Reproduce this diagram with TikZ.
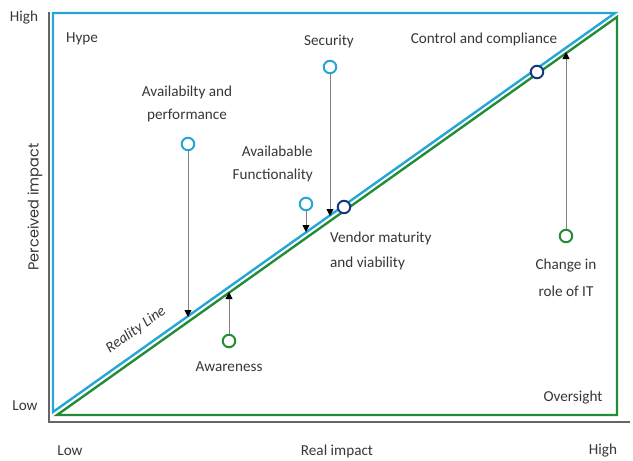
\documentclass[tikz,border=0pt]{standalone}
\usepackage{fontspec}
\setmainfont{Carlito}
\newfontfamily\axisfont{Poppins}
\usetikzlibrary{arrows.meta}
\definecolor{realblue}{RGB}{38,165,215}
\definecolor{realgreen}{RGB}{35,140,55}
\definecolor{darkdot}{RGB}{25,55,125}
\definecolor{txtgray}{RGB}{55,55,55}
\begin{document}
\begin{tikzpicture}[x=1pt,y=-1pt,
        every node/.style={text=txtgray,font=\fontsize{15.2}{23}\selectfont},
        dot/.style={circle,draw,line width=2pt,fill=white,inner sep=0pt,minimum size=12.5pt},
        lbl/.style={align=center,inner sep=0pt},
        pointer/.style={draw=gray,line width=0.9pt,-{Triangle[length=7pt,width=7pt,color=black]}}]
        \useasboundingbox (0,0) rectangle (633,461);
        % axes
        \coordinate (o) at (49,422);
        \coordinate (ytop) at (49,12);
        \coordinate (xend) at (630,422);
        \draw[gray!80!black,line width=1.4pt] (ytop) -- (o) -- (xend);
        % hype triangle and oversight triangle
        \coordinate (b1) at (53,412);
        \coordinate (b2) at (53,13);
        \coordinate (b3) at (615,13);
        \coordinate (g1) at (57,415);
        \coordinate (g2) at (617,415);
        \coordinate (g3) at (617,17);
        \draw[realblue,line width=2.4pt,line join=miter] (b1) -- (b2) -- (b3) -- cycle;
        \draw[realgreen,line width=2.4pt,line join=miter] (g1) -- (g2) -- (g3) -- cycle;
        % axis labels
        \node (yhigh) at (24,18) {High};
        \node (ylow) at (25,406) {Low};
        \node (xlow) at (70,451) {Low};
        \node (xmid) at (337,451) {Real impact};
        \node (xhigh) at (603,451) {High};
        \node[rotate=90,font=\axisfont\fontsize{14.5}{16}\selectfont] (yname) at (35,207) {Perceived impact};
        \node (hype) at (82,39) {Hype};
        \node[anchor=east] (oversight) at (606,398) {Oversight};
        \node[rotate=35.3,font=\itshape\fontsize{15}{17}\selectfont] (reality) at (136,330) {Reality Line};
        % points
        \node[dot,draw=realblue] (avail) at (188,144) {};
        \node[dot,draw=realblue] (secur) at (330,67) {};
        \node[dot,draw=realblue] (funct) at (306,204) {};
        \node[dot,draw=darkdot] (contr) at (537,72) {};
        \node[dot,draw=darkdot] (vendor) at (344,207) {};
        \node[dot,draw=realgreen] (change) at (566,236) {};
        \node[dot,draw=realgreen] (aware) at (229,341) {};
        % labels
        \node[lbl] (availtxt) at (187,104) {Availabilty and\\performance};
        \node[lbl] (secutxt) at (329,41) {Security};
        \node[lbl,align=right,anchor=east] (functtxt) at (313,164) {Availabable\\Functionality};
        \node[lbl] (contrtxt) at (484,39) {Control and compliance};
        \node[lbl,align=left,anchor=west,font=\fontsize{15.2}{25}\selectfont] (vendtxt) at (330,251) {Vendor maturity\\and viability};
        \node[lbl,font=\fontsize{15.2}{27}\selectfont] (changetxt) at (566,278) {Change in\\role of IT};
        \node[lbl] (awaretxt) at (229,367) {Awareness};
        % arrow ends on the lines
        \coordinate (availend) at (188,317);
        \coordinate (secuend) at (330,216);
        \coordinate (functend) at (306,232);
        \coordinate (awareend) at (229,292);
        \coordinate (changeend) at (566,52);
        \draw[pointer] (avail) -- (availend);
        \draw[pointer] (secur) -- (secuend);
        \draw[pointer] (funct) -- (functend);
        \draw[pointer] (aware) -- (awareend);
        \draw[pointer] (change) -- (changeend);
\end{tikzpicture}
\end{document}
